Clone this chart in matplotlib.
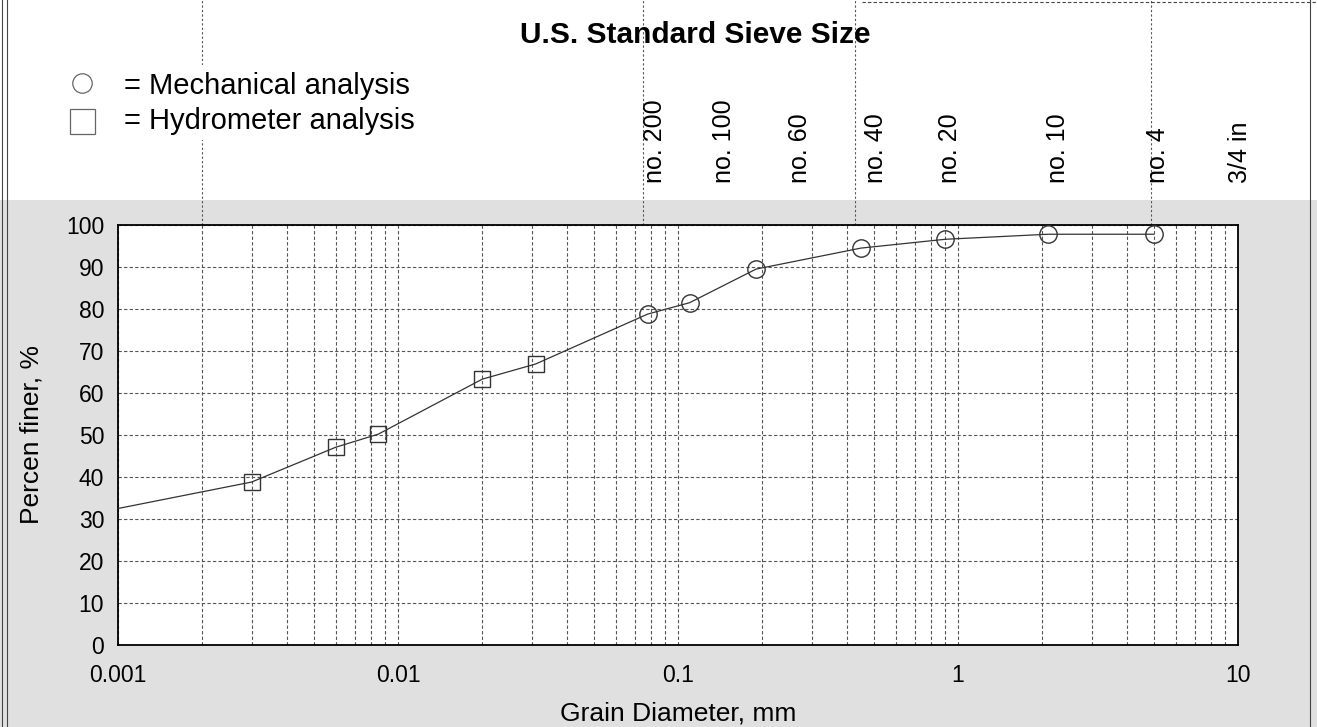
import matplotlib
matplotlib.use("Agg")
import matplotlib.pyplot as plt
from matplotlib.lines import Line2D
from matplotlib.patches import Rectangle
import matplotlib.transforms as mtransforms

plt.rcParams['font.family'] = ['Liberation Sans', 'DejaVu Sans']

# ---- data ----
hydro_d = [0.003, 0.006, 0.0085, 0.02, 0.031]
hydro_p = [38.8, 47.1, 50.2, 63.3, 66.9]
mech_d = [0.078, 0.11, 0.19, 0.45, 0.9, 2.1, 5.0]
mech_p = [78.8, 81.5, 89.5, 94.5, 96.6, 97.8, 97.8]
curve_start_d = [0.001]
curve_start_p = [32.5]

sieve_labels = ["no. 200", "no. 100", "no. 60", "no. 40", "no. 20", "no. 10", "no. 4", "3/4 in"]
sieve_label_pos = [0.083, 0.146, 0.273, 0.51, 0.936, 2.28, 5.18, 10.2]
sieve_lines = [0.002, 0.075, 0.43, 4.9]

yticks = list(range(0, 101, 10))
xticks = [0.001, 0.01, 0.1, 1, 10]
xticklabels = ["0.001", "0.01", "0.1", "1", "10"]

W, H = 1317, 727
fig = plt.figure(figsize=(W / 100, H / 100), dpi=100)
fig.patch.set_facecolor('white')

# gray scanned background in lower area
fig.add_artist(Rectangle((0, 0), 1, (H - 200) / H, transform=fig.transFigure,
                         facecolor='#e0e0e0', edgecolor='none', zorder=-10))

ax = fig.add_axes([118 / W, (H - 645) / H, (1238 - 118) / W, 420 / H])
ax.set_facecolor('white')
ax.set_xscale('log')
ax.set_xlim(0.001, 10)
ax.set_ylim(0, 100)

gcol = '#555555'
ax.grid(True, which='major', axis='both', color=gcol, linestyle=(0, (3, 2)), linewidth=0.8)
ax.grid(True, which='minor', axis='x', color=gcol, linestyle=(0, (3, 2)), linewidth=0.8)
ax.set_yticks(yticks)
ax.set_xticks(xticks)
ax.set_xticklabels(xticklabels)
ax.tick_params(axis='both', which='both', length=0)
ax.tick_params(axis='y', labelsize=16.5, pad=10)
ax.tick_params(axis='x', labelsize=16.5, pad=14)
for s in ax.spines.values():
    s.set_color('black')
    s.set_linewidth(1.3)

# curve
all_d = curve_start_d + hydro_d + mech_d
all_p = curve_start_p + hydro_p + mech_p
ax.plot(all_d, all_p, color='#333333', linewidth=0.9, zorder=3)
ax.plot(hydro_d, hydro_p, linestyle='none', marker='s', markersize=12,
        markerfacecolor='none', markeredgecolor='#333333', markeredgewidth=1.0, zorder=4)
ax.plot(mech_d, mech_p, linestyle='none', marker='o', markersize=12.5,
        markerfacecolor='none', markeredgecolor='#333333', markeredgewidth=1.0, zorder=4)

ax.set_xlabel("Grain Diameter, mm", fontsize=19, labelpad=10)
ax.set_ylabel("Percen finer, %", fontsize=19, labelpad=16)

# sieve labels above axes
trans = mtransforms.blended_transform_factory(ax.transData, ax.transAxes)
ytop = 1 + (225 - 183) / 420
for lab, xp in zip(sieve_labels, sieve_label_pos):
    ax.text(xp, ytop, lab, rotation=90, ha='center', va='bottom', fontsize=18,
            transform=trans, clip_on=False)

# dotted vertical lines extending above axes
for xv in sieve_lines:
    ln = Line2D([xv, xv], [1.0, 1 + 225 / 420], transform=trans, color=gcol,
                linestyle=(0, (2, 2)), linewidth=0.8, clip_on=False, zorder=1)
    ax.add_artist(ln)

# title
fig.text(695 / W, 1 - 35 / H, "U.S. Standard Sieve Size", fontsize=21.5,
         fontweight='bold', ha='center', va='center')

# legend-like annotation
fig.add_artist(Rectangle((120 / W, 1 - 140 / H), 330 / W, 75 / H, transform=fig.transFigure,
                         facecolor='white', edgecolor='none', zorder=2))
fig.add_artist(Line2D([82 / W], [1 - 83 / H], marker='o', markersize=14, markerfacecolor='none',
                      markeredgecolor='#666666', markeredgewidth=0.9, transform=fig.transFigure))
fig.add_artist(Line2D([82 / W], [1 - 121 / H], marker='s', markersize=18, markerfacecolor='none',
                      markeredgecolor='#666666', markeredgewidth=0.9, transform=fig.transFigure))
fig.text(124 / W, 1 - 86 / H, "= Mechanical analysis", fontsize=21, ha='left', va='center', zorder=3)
fig.text(124 / W, 1 - 121 / H, "= Hydrometer analysis", fontsize=21, ha='left', va='center', zorder=3)

# page borders
for xv in [2 / W, 7 / W, 1310 / W]:
    fig.add_artist(Line2D([xv, xv], [0, 1], transform=fig.transFigure, color='#444444', linewidth=0.8))
fig.add_artist(Line2D([862 / W, 1], [1 - 1.5 / H, 1 - 1.5 / H], transform=fig.transFigure,
                      color='#444444', linewidth=0.8, linestyle=(0, (3, 2))))

fig.savefig("out.png", dpi=100)
